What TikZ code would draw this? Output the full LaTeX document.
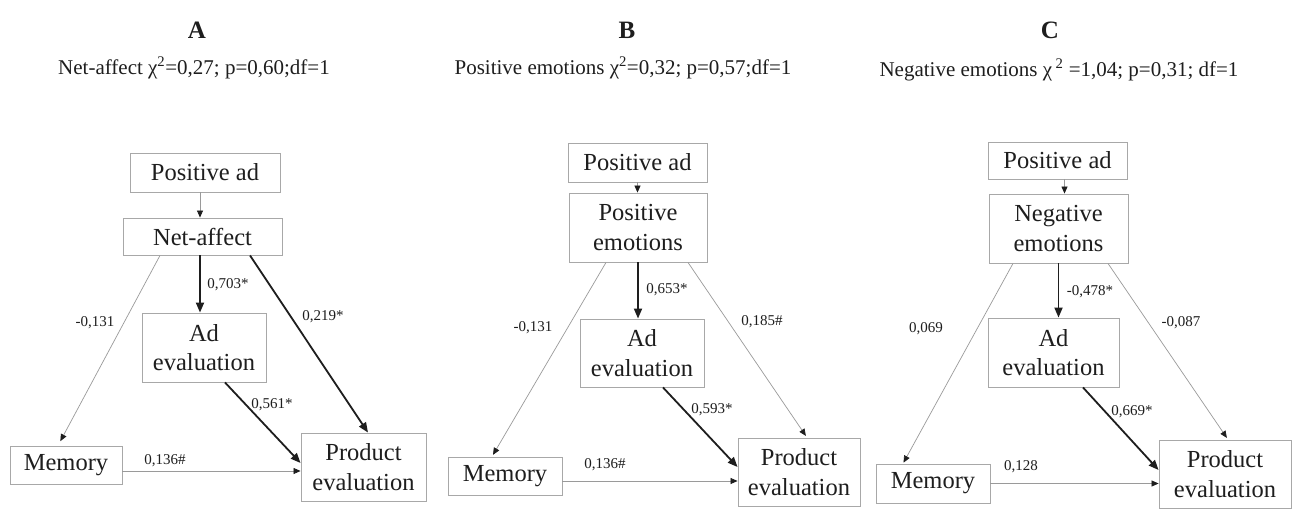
\documentclass[tikz,border=0pt]{standalone}
\usepackage{fontspec}
\setmainfont{Liberation Serif}
\usetikzlibrary{arrows.meta}
\definecolor{boxline}{HTML}{A8A8A8}
\definecolor{thinline}{HTML}{9A9A9A}
\definecolor{ink}{HTML}{1E1E1E}
\begin{document}
\begin{tikzpicture}[x=1pt,y=-1pt,
  box/.style={draw=boxline,line width=0.9pt,inner sep=0pt,align=center,text=ink,
    font=\fontsize{24.5}{29.5}\selectfont},
  thinpath/.style={draw=thinline,line width=0.7pt,-{Triangle[length=7pt,width=6pt,color=ink]}},
  thickpath/.style={draw=ink,line width=1.8pt,-{Triangle[length=10pt,width=8pt]}},
  coef/.style={text=ink,inner sep=0pt,font=\fontsize{15}{18}\selectfont},
  paneltag/.style={text=ink,inner sep=0pt,font=\fontsize{25}{30}\selectfont\bfseries},
  fitinfo/.style={text=ink,inner sep=0pt,font=\fontsize{21}{25}\selectfont}]
\useasboundingbox (0,0) rectangle (1295,531);
\fill[white] (0,0) rectangle (1295,531);

% ---------- Panel A: net affect ----------
\node[paneltag] (tagA) at (197,30) {A};
\node[fitinfo] (fitA) at (194,68) {Net-affect χ\textsuperscript{2}=0,27; p=0,60;df=1};
\node[box,minimum width=150pt,minimum height=39pt] (paA) at (205,172.5) {Positive ad};
\node[box,minimum width=159pt,minimum height=37pt] (naA) at (202.5,236.5) {Net-affect};
\node[box,minimum width=124pt,minimum height=69pt] (aeA) at (204,347.5) {Ad\\evaluation};
\node[box,minimum width=112pt,minimum height=38pt] (meA) at (66,465) {Memory};
\node[box,minimum width=125pt,minimum height=68pt] (peA) at (363.5,467) {Product\\evaluation};

\draw[thinpath] ([xshift=-5pt]paA.south) -- ([xshift=-5pt]paA.south |- naA.north);
\draw[thickpath] ([xshift=-2.5pt]naA.south) -- ([xshift=-2.5pt]naA.south |- aeA.north);
\draw[thinpath,shorten >=5pt] ([xshift=-42.5pt]naA.south) -- ([xshift=-8pt]meA.north);
\draw[thickpath] ([xshift=47.5pt]naA.south) -- ([xshift=4.5pt]peA.north);
\draw[thickpath] ([xshift=21pt]aeA.south) -- ([yshift=4pt]peA.west);
\draw[thinpath] ([yshift=-6pt]meA.east) -- ([yshift=-6pt]meA.east -| peA.west);

\node[coef] (cA1) at (228,285) {0,703*};
\node[coef] (cA2) at (95,323) {-0,131};
\node[coef] (cA3) at (323,317) {0,219*};
\node[coef] (cA4) at (272,405) {0,561*};
\node[coef] (cA5) at (165,461) {0,136\#};

% ---------- Panel B: positive emotions ----------
\node[paneltag] (tagB) at (627,30) {B};
\node[fitinfo] (fitB) at (623,68) {Positive emotions χ\textsuperscript{2}=0,32; p=0,57;df=1};
\node[box,minimum width=139pt,minimum height=39pt] (paB) at (637.5,162.5) {Positive ad};
\node[box,minimum width=138pt,minimum height=69pt] (emB) at (638,227.5) {Positive\\emotions};
\node[box,minimum width=124pt,minimum height=68pt] (aeB) at (642,353) {Ad\\evaluation};
\node[box,minimum width=114pt,minimum height=38pt] (meB) at (505,476) {Memory};
\node[box,minimum width=122pt,minimum height=68pt] (peB) at (799,472) {Product\\evaluation};

\draw[thinpath] (paB.south) -- (paB.south |- emB.north);
\draw[thickpath] (emB.south) -- (emB.south |- aeB.north);
\draw[thinpath,shorten >=2pt] ([xshift=-32pt]emB.south) -- ([xshift=-13pt]meB.north);
\draw[thinpath,shorten >=2pt] ([xshift=50pt]emB.south) -- ([xshift=8pt]peB.north);
\draw[thickpath] ([xshift=21pt]aeB.south) -- ([yshift=5pt]peB.west);
\draw[thinpath] ([yshift=-5pt]meB.east) -- ([yshift=-5pt]meB.east -| peB.west);

\node[coef] (cB1) at (667,290) {0,653*};
\node[coef] (cB2) at (533,328) {-0,131};
\node[coef] (cB3) at (762,322) {0,185\#};
\node[coef] (cB4) at (712,410) {0,593*};
\node[coef] (cB5) at (605,465) {0,136\#};

% ---------- Panel C: negative emotions ----------
\node[paneltag] (tagC) at (1050,30) {C};
\node[fitinfo] (fitC) at (1059,70) {Negative emotions χ\,\textsuperscript{2} =1,04; p=0,31; df=1};
\node[box,minimum width=139pt,minimum height=37pt] (paC) at (1057.5,160.5) {Positive ad};
\node[box,minimum width=139pt,minimum height=69pt] (emC) at (1058.5,228.5) {Negative\\emotions};
\node[box,minimum width=131pt,minimum height=69pt] (aeC) at (1053.5,352.5) {Ad\\evaluation};
\node[box,minimum width=114pt,minimum height=39pt] (meC) at (933,483.5) {Memory};
\node[box,minimum width=132pt,minimum height=68pt] (peC) at (1225,474) {Product\\evaluation};

\draw[thinpath] ([xshift=7pt]paC.south) -- ([xshift=7pt]paC.south |- emC.north);
\draw[thickpath] (emC.south) -- (emC.south |- aeC.north);
\draw[thinpath,shorten >=1pt] ([xshift=-45.5pt]emC.south) -- ([xshift=-30pt]meC.north);
\draw[thinpath,shorten >=2pt] ([xshift=49.5pt]emC.south) -- ([xshift=3pt]peC.north);
\draw[thickpath] ([xshift=29.5pt]aeC.south) -- ([yshift=4pt]peC.west);
\draw[thinpath] (meC.east) -- (meC.east -| peC.west);

\node[coef] (cC1) at (1090,292) {-0,478*};
\node[coef] (cC2) at (926,329) {0,069};
\node[coef] (cC3) at (1181,323) {-0,087};
\node[coef] (cC4) at (1132,412) {0,669*};
\node[coef] (cC5) at (1021,467) {0,128};
\end{tikzpicture}
\end{document}
